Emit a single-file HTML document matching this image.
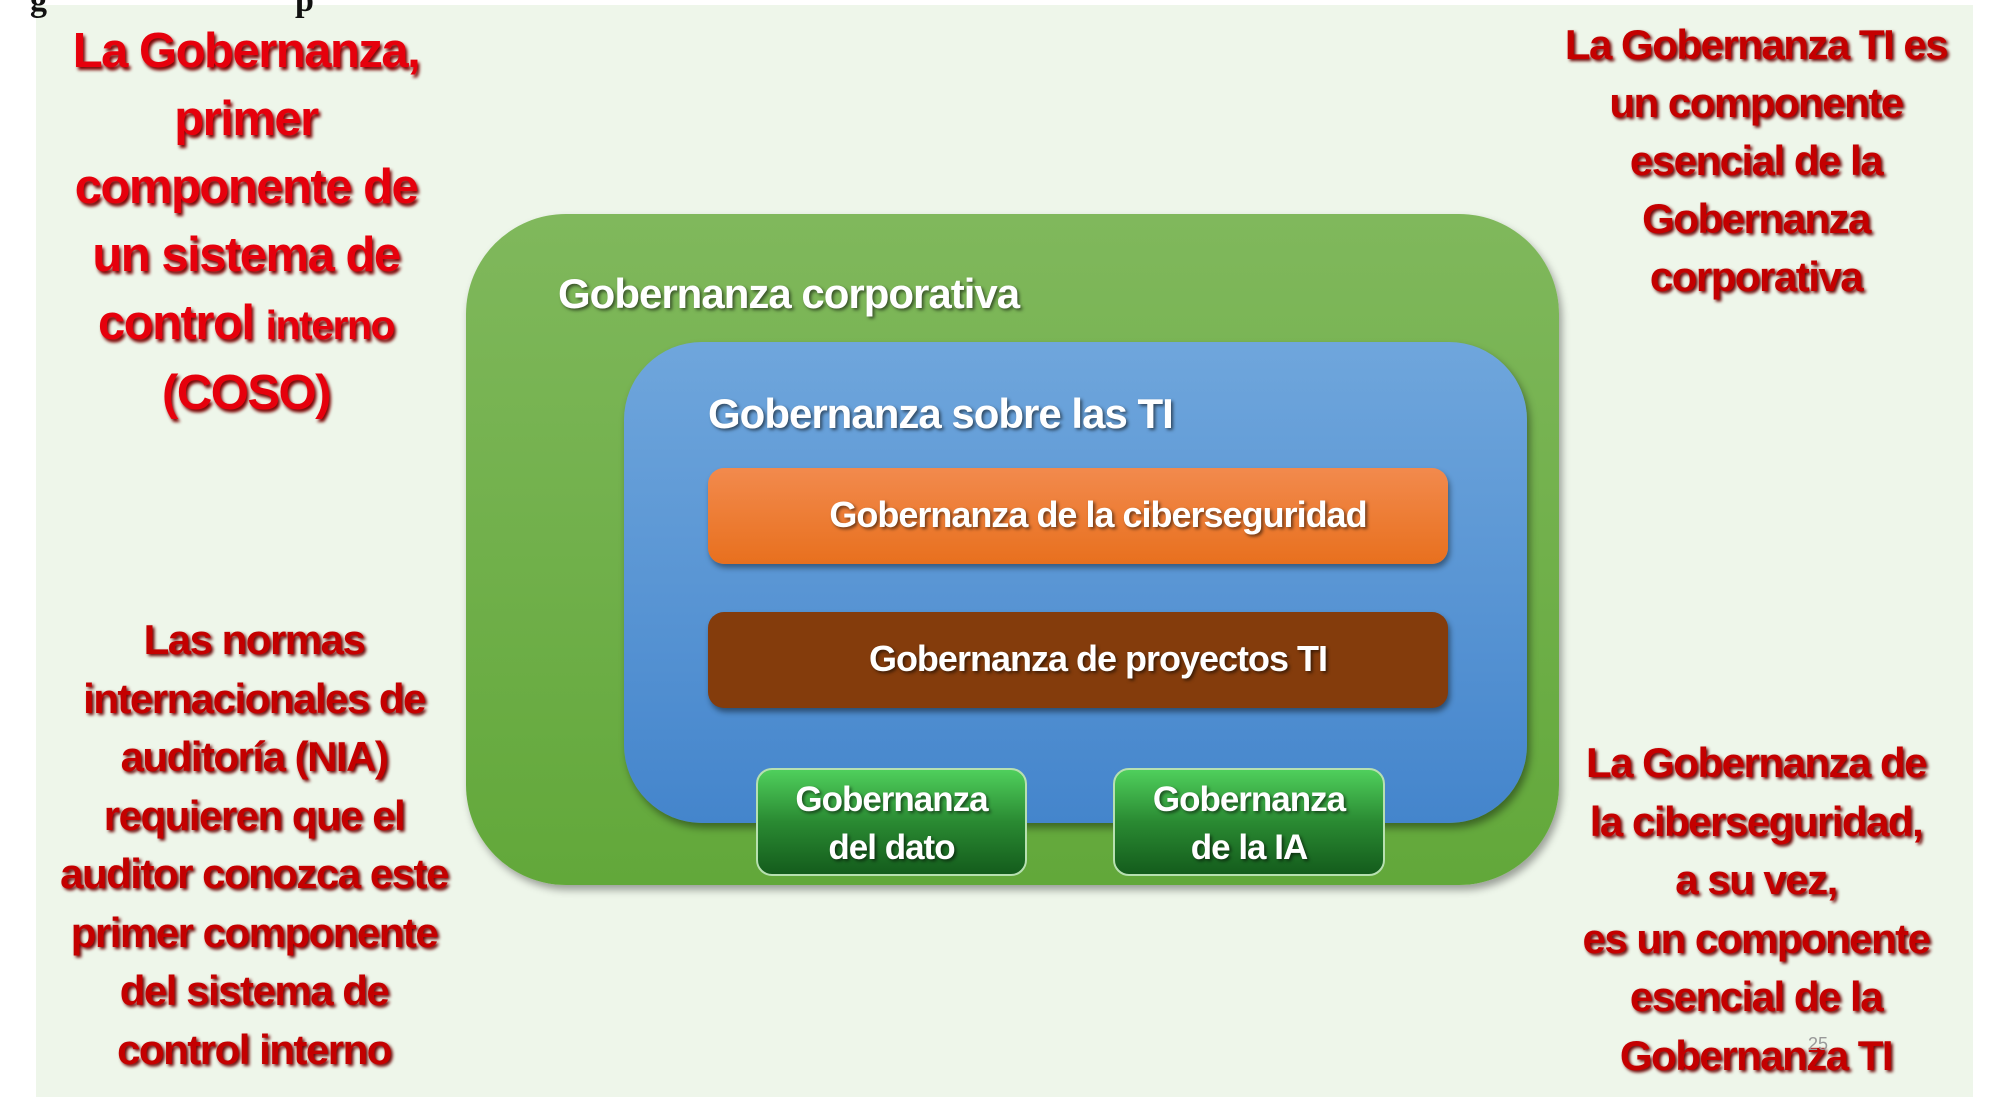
<!DOCTYPE html>
<html><head><meta charset="utf-8"><style>
html,body{margin:0;padding:0;width:2000px;height:1107px;background:#fff;overflow:hidden;position:relative;font-family:"Liberation Sans",sans-serif;}
.panel{position:absolute;left:36px;top:5px;width:1937px;height:1092px;background:#eef6ea;}
.abs{position:absolute}
.red{font-weight:bold;text-align:center;letter-spacing:-1.5px;}
.w{color:#fff;font-weight:bold;text-shadow:2px 2px 3px rgba(0,0,0,.55);letter-spacing:-1px;white-space:nowrap}
</style></head><body>
<div class="panel"></div>
<div class="abs" style="left:30px;top:-18px;font-family:'Liberation Serif',serif;font-size:34px;font-weight:bold;color:#111;letter-spacing:1px">g&nbsp;&nbsp;&nbsp;&nbsp;&nbsp;&nbsp;&nbsp;&nbsp;&nbsp;&nbsp;&nbsp;&nbsp;&nbsp;&nbsp;&nbsp;&nbsp;&nbsp;&nbsp;&nbsp;&nbsp;&nbsp;&nbsp;&nbsp;&nbsp;&nbsp;&nbsp;p</div>

<div class="abs" style="left:466px;top:214px;width:1093px;height:671px;border-radius:100px;background:linear-gradient(#80b85c,#62a83a);box-shadow:3px 5px 8px rgba(0,0,0,.35)"></div>
<div class="abs w" style="left:558px;top:270px;font-size:42px">Gobernanza corporativa</div>
<div class="abs" style="left:624px;top:342px;width:903px;height:481px;border-radius:78px;background:linear-gradient(#6fa6dc,#4485cc);box-shadow:3px 5px 8px rgba(0,0,0,.4)"></div>
<div class="abs w" style="left:708px;top:390px;font-size:42px">Gobernanza sobre las TI</div>
<div class="abs" style="left:708px;top:468px;width:740px;height:96px;border-radius:16px;background:linear-gradient(#f28a4d,#e8701e);box-shadow:2px 4px 6px rgba(0,0,0,.4)"></div>
<div class="abs w" style="left:708px;top:494px;width:740px;text-align:center;font-size:36px;padding-left:40px;box-sizing:border-box">Gobernanza de la ciberseguridad</div>
<div class="abs" style="left:708px;top:612px;width:740px;height:96px;border-radius:16px;background:#843c0c;box-shadow:2px 4px 6px rgba(0,0,0,.45)"></div>
<div class="abs w" style="left:708px;top:638px;width:740px;text-align:center;font-size:36px;padding-left:40px;box-sizing:border-box">Gobernanza de proyectos TI</div>
<div class="abs" style="left:756px;top:768px;width:271px;height:108px;border-radius:16px;background:linear-gradient(#4fcf5c,#2a8a32 50%,#145c1c);border:2px solid #b7e0b0;box-sizing:border-box"></div>
<div class="abs w" style="left:756px;top:776px;width:271px;text-align:center;font-size:35px;line-height:48px">Gobernanza<br>del dato</div>
<div class="abs" style="left:1113px;top:768px;width:272px;height:108px;border-radius:16px;background:linear-gradient(#4fcf5c,#2a8a32 50%,#145c1c);border:2px solid #b7e0b0;box-sizing:border-box"></div>
<div class="abs w" style="left:1113px;top:776px;width:272px;text-align:center;font-size:35px;line-height:48px">Gobernanza<br>de la IA</div>

<div class="abs red" style="left:36px;top:17px;width:420px;font-size:49px;line-height:68px;color:#e6000c;text-shadow:2px 3px 3px #7a0000">La Gobernanza,<br>primer<br>componente de<br>un sistema de<br>control <span style="font-size:41px">interno</span><br>(COSO)</div>
<div class="abs red" style="left:36px;top:611px;width:436px;font-size:42px;line-height:58.5px;color:#c40000;text-shadow:2px 2px 3px #6a0000">Las normas<br>internacionales de<br>auditoría (NIA)<br>requieren que el<br>auditor conozca este<br>primer componente<br>del sistema de<br>control interno</div>
<div class="abs red" style="left:1551px;top:16px;width:410px;font-size:42px;line-height:58px;color:#c40000;text-shadow:2px 2px 3px #6a0000">La Gobernanza TI es<br>un componente<br>esencial de la<br>Gobernanza<br>corporativa</div>
<div class="abs red" style="left:1551px;top:734px;width:410px;font-size:42px;line-height:58.5px;color:#c40000;text-shadow:2px 2px 3px #6a0000">La Gobernanza de<br>la ciberseguridad,<br>a su vez,<br>es un componente<br>esencial de la<br>Gobernanza TI</div>
<div class="abs" style="left:1808px;top:1034px;font-size:18px;color:#999">25</div>
</body></html>
